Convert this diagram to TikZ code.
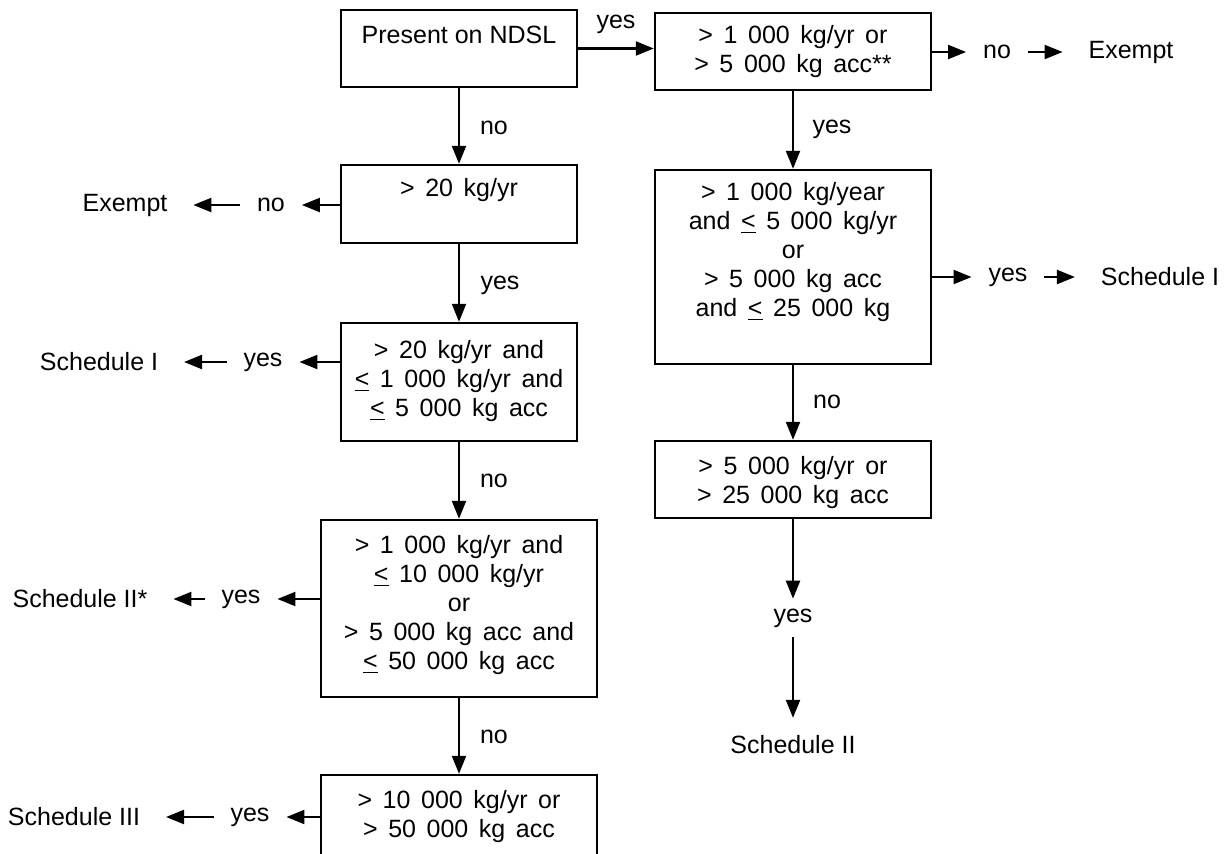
\documentclass[tikz,border=0pt]{standalone}
\usepackage{fontspec}
\setmainfont{Liberation Sans}
\usepackage{tikz}
\usetikzlibrary{arrows.meta,fit,calc}
\newcommand{\lee}{\underline{<}}
\tikzset{
  box/.style={draw=black, line width=1.2pt, inner sep=0pt},
  txt/.style={align=center, inner sep=0pt},
  qty/.style={txt, execute at begin node={\spaceskip=5.3pt\relax}},
  lab/.style={inner sep=0pt, outer xsep=8.5pt, outer ysep=5pt},
  ter/.style={inner sep=0pt, outer xsep=13pt, outer ysep=9pt},
  arr/.style={draw=black, line width=1.1pt, -{Triangle[length=9pt,width=7pt]}},
}

\begin{document}
\begin{tikzpicture}[x=0.5pt, y=-0.5pt, font=\fontsize{12.5}{14.5}\selectfont]
  \useasboundingbox (0,0) rectangle (1228,853);
  \fill[white] (0,0) rectangle (1228,853);
  \clip (0,0) rectangle (1228,853);

  % left column
  \node[box, fit={(341,10) (577,87)}] (ndsl) {};
  \node[txt] (ndslT) at (459,35) {Present on NDSL};
  \node[box, fit={(341,165) (577,243)}] (lo20) {};
  \node[qty] (lo20T) at (459,190) {> 20 kg/yr};
  \node[box, fit={(341,323) (577,441)}] (s1) {};
  \node[qty] (s1T) at (459,381) {> 20 kg/yr and\\\lee{} 1 000 kg/yr and\\\lee{} 5 000 kg acc};
  \node[box, fit={(321,520) (597,697)}] (s2) {};
  \node[qty] (s2T) at (459,605) {> 1 000 kg/yr and\\\lee{} 10 000 kg/yr\\or\\> 5 000 kg acc and\\\lee{} 50 000 kg acc};
  \node[box, fit={(321,775) (597,900)}] (s3) {};
  \node[qty] (s3T) at (459,817) {> 10 000 kg/yr or\\> 50 000 kg acc};

  % right column
  \node[box, fit={(655,13) (931,90)}] (hi1) {};
  \node[qty] (hi1T) at (793,51.5) {> 1 000 kg/yr or\\> 5 000 kg acc**};
  \node[box, fit={(655,170) (931,364)}] (rs1) {};
  \node[qty] (rs1T) at (793,252) {> 1 000 kg/year\\and \lee{} 5 000 kg/yr\\or\\> 5 000 kg acc\\and \lee{} 25 000 kg};
  \node[box, fit={(655,441) (931,518)}] (rs2) {};
  \node[qty] (rs2T) at (793,483) {> 5 000 kg/yr or\\> 25 000 kg acc};

  % labels
  \node[lab] (ndslyes) at (616,24) {yes};
  \node[lab] (ndslno) at (494,128) {no};
  \node[lab] (lo20yes) at (500,285) {yes};
  \node[lab] (s1no) at (494,481) {no};
  \node[lab] (s2no) at (494,737) {no};
  \node[lab] (hi1yes) at (832,129) {yes};
  \node[lab] (rs1no) at (827,402) {no};

  \node[lab] (lo20no) at (271,205) {no};
  \node[ter] (lo20ex) at (125,205) {Exempt};
  \node[lab] (s1yes) at (263,362) {yes};
  \node[ter] (s1out) at (99,362) {Schedule I};
  \node[lab] (s2yes) at (241,599) {yes};
  \node[ter] (s2out) at (80,599) {Schedule II*};
  \node[lab] (s3yes) at (250,817) {yes};
  \node[ter] (s3out) at (74,817) {Schedule III};

  \node[lab] (hi1no) at (997,52) {no};
  \node[ter] (hi1ex) at (1131,52) {Exempt};
  \node[lab] (rs1yes) at (1008,277) {yes};
  \node[ter] (rs1out) at (1160,277) {Schedule I};
  \node[lab] (rs2yes) at (793,618) {yes};
  \node[ter] (rs2out) at (793,745) {Schedule II};

  % connectors
  \draw[arr] (ndsl.east) -- (ndsl.east -| hi1.west);
  \draw[arr] (ndsl) -- (lo20);
  \draw[arr] (lo20) -- (s1);
  \draw[arr] (s1) -- (s2);
  \draw[arr] (s2) -- (s3);
  \draw[arr] (hi1) -- (rs1);
  \draw[arr] (rs1) -- (rs2);
  \draw[arr] (rs2) -- (rs2yes);
  \draw[arr] (rs2yes) -- (rs2out);

  \draw[arr] (lo20.west |- lo20no) -- (lo20no);
  \draw[arr] (lo20no) -- (lo20ex);
  \draw[arr] (s1.west |- s1yes) -- (s1yes);
  \draw[arr] (s1yes) -- (s1out);
  \draw[arr] (s2.west |- s2yes) -- (s2yes);
  \draw[arr] (s2yes) -- (s2out);
  \draw[arr] (s3.west |- s3yes) -- (s3yes);
  \draw[arr] (s3yes) -- (s3out);

  \draw[arr] (hi1.east |- hi1no) -- (hi1no);
  \draw[arr] (hi1no) -- (hi1ex);
  \draw[arr] (rs1.east |- rs1yes) -- (rs1yes);
  \draw[arr] (rs1yes) -- (rs1out);
\end{tikzpicture}
\end{document}
